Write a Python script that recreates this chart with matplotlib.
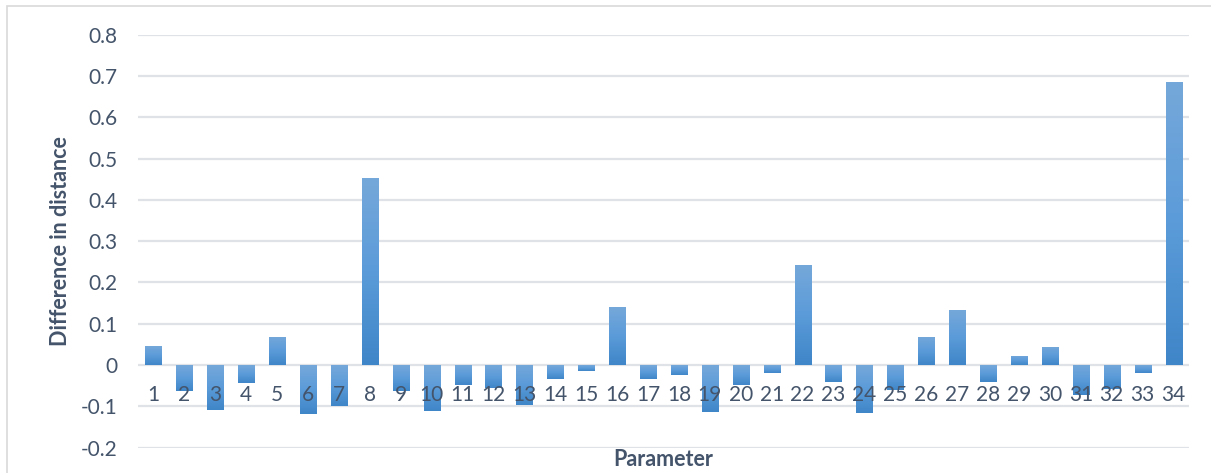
import numpy as np
import matplotlib
matplotlib.use("Agg")
import matplotlib.pyplot as plt
from matplotlib.patches import Rectangle

# values
params = [str(i) for i in range(1, 35)]
diffs = [0.046, -0.062, -0.108, -0.043, 0.068, -0.118, -0.098, 0.452, -0.062, -0.110,
         -0.048, -0.055, -0.097, -0.033, -0.014, 0.140, -0.033, -0.023, -0.113, -0.048,
         -0.019, 0.242, -0.040, -0.115, -0.061, 0.068, 0.133, -0.040, 0.022, 0.044,
         -0.073, -0.059, -0.019, 0.685]
yticks = [-0.2, -0.1, 0, 0.1, 0.2, 0.3, 0.4, 0.5, 0.6, 0.7, 0.8]
ytick_labels = ["-0.2", "-0.1", "0", "0.1", "0.2", "0.3", "0.4", "0.5", "0.6", "0.7", "0.8"]

txt = "#44546A"
grid = "#dfe2e6"
plt.rcParams["font.family"] = ["Lato", "DejaVu Sans"]

fig = plt.figure(figsize=(12.11, 4.73), dpi=100)
# light chart border (cut at right / bottom like the reference)
fig.patches.append(Rectangle((7 / 1211, -0.1), 1.2, 1 - 6 / 473 + 0.1,
                             transform=fig.transFigure, fill=False,
                             edgecolor="#d9d9d9", linewidth=1.2))
ax = fig.add_axes([138 / 1211, 1 - 447.7 / 473, (1189 - 138) / 1211, (447.7 - 34.7) / 473])

x = np.arange(len(diffs))
bars = ax.bar(x, diffs, width=0.52, color="none", zorder=2)

# gradient fill: lighter at top, darker at bottom
grad = np.linspace(0, 1, 100).reshape(-1, 1)
cmap = matplotlib.colors.LinearSegmentedColormap.from_list("g", ["#75a8da", "#5b9bd9", "#3f86c8"])
for b in bars:
    x0, y0 = b.get_x(), b.get_y()
    w, h = b.get_width(), b.get_height()
    lo, hi = min(y0, y0 + h), max(y0, y0 + h)
    im = ax.imshow(grad, extent=[x0, x0 + w, lo, hi], origin="upper", cmap=cmap,
                   aspect="auto", zorder=2, interpolation="bilinear")
    im.set_clip_path(b)

ax.set_xlim(-0.5, len(diffs) - 0.5)
ax.set_ylim(-0.2, 0.8)
ax.set_yticks(yticks, ytick_labels)
ax.set_xticks([])
for v in yticks:
    ax.axhline(v, color=grid, linewidth=1.6, zorder=1)
for s in ax.spines.values():
    s.set_visible(False)
ax.tick_params(axis="y", length=0, pad=15, labelsize=15, labelcolor=txt)

# category labels sit just under the zero line, over the bars
for i, p in enumerate(params):
    ax.annotate(p, (i, 0), xytext=(0, -14), textcoords="offset points",
                ha="center", va="top", fontsize=15, color=txt, zorder=5)

ax.set_ylabel("Difference in distance", fontsize=15.5, fontweight="bold", color=txt, labelpad=7)
fig.text((138 + 1189) / 2 / 1211, 1 - 459 / 473, "Parameter", ha="center", va="center",
         fontsize=15.5, fontweight="bold", color=txt)

fig.savefig("out.png", dpi=100)
